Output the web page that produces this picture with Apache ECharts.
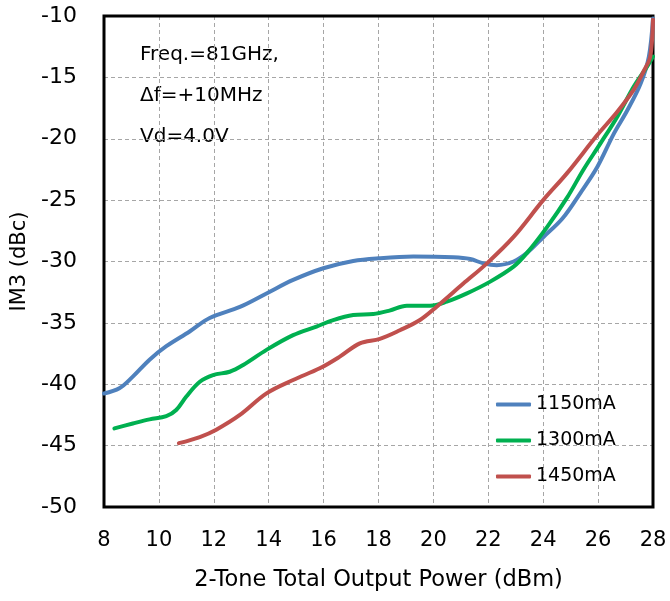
<!DOCTYPE html>
<html>
<head>
<meta charset="utf-8">
<script src="https://cdn.jsdelivr.net/npm/echarts@6/dist/echarts.min.js"></script>
<style>
  html, body { margin: 0; padding: 0; background: #ffffff; }
  #chart { width: 670px; height: 601px; }
</style>
</head>
<body>
<div id="chart"></div>
<script>
// Two-tone IM3 versus total output power, three drain currents
const xTicks = [8, 10, 12, 14, 16, 18, 20, 22, 24, 26, 28];
const yTicks = [-50, -45, -40, -35, -30, -25, -20, -15, -10];

const seriesNames = ['1150mA', '1300mA', '1450mA'];

const pout1150 = [8.0, 8.56, 9.04, 9.66, 10.27, 11.12, 11.85, 12.95, 13.92, 14.89, 15.99, 17.08, 18.0, 19.27, 20.73, 21.34, 21.82, 22.31, 22.92, 23.41, 24.01, 24.7, 25.36, 25.97, 26.57, 27.06, 27.55, 27.85, 28.0];
const im3_1150 = [-40.75, -40.33, -39.4, -38.0, -36.9, -35.7, -34.6, -33.7, -32.6, -31.5, -30.55, -29.96, -29.74, -29.6, -29.66, -29.8, -30.15, -30.3, -30.0, -29.3, -28.0, -26.5, -24.4, -22.3, -19.6, -17.7, -15.5, -13.3, -10.2];

const pout1300 = [8.38, 9.05, 9.66, 10.27, 10.63, 11.0, 11.49, 11.97, 12.58, 13.07, 13.92, 14.89, 15.74, 16.35, 17.08, 17.81, 18.4, 19.03, 19.88, 20.49, 21.22, 22.07, 22.92, 23.41, 24.14, 24.87, 25.47, 26.08, 26.7, 27.3, 27.79, 28.0];
const im3_1300 = [-43.6, -43.2, -42.86, -42.6, -42.1, -41.0, -39.8, -39.25, -38.98, -38.43, -37.2, -36.0, -35.3, -34.77, -34.36, -34.28, -34.0, -33.6, -33.6, -33.27, -32.6, -31.64, -30.42, -29.3, -27.2, -24.8, -22.5, -20.4, -18.2, -15.75, -14.1, -13.3];

const pout1450 = [10.73, 11.49, 12.09, 12.95, 13.92, 14.89, 15.86, 16.59, 17.32, 18.05, 18.78, 19.51, 20.12, 21.09, 21.95, 22.92, 24.0, 24.87, 25.97, 26.7, 27.3, 27.66, 27.9, 28.0];
const im3_1450 = [-44.8, -44.3, -43.7, -42.5, -40.74, -39.65, -38.7, -37.75, -36.67, -36.3, -35.6, -34.77, -33.68, -31.8, -30.15, -28.0, -25.0, -22.8, -19.7, -17.8, -16.0, -14.5, -13.3, -10.3];

const colors = ['#4f81bd', '#00b050', '#c0504d'];
const noteLines = ['Freq.=81GHz,', 'Δf=+10MHz', 'Vd=4.0V'];

const FONT = '"DejaVu Sans", Verdana, sans-serif';

function pairs(xs, ys) {
  return xs.map((x, i) => [x, ys[i]]);
}

const chart = echarts.init(document.getElementById('chart'), null, { renderer: 'canvas' });

const gridBox = { left: 104, top: 16, right: 17, bottom: 94 };

chart.setOption({
  animation: false,
  backgroundColor: '#ffffff',
  color: colors,
  grid: {
    left: gridBox.left, top: gridBox.top, right: gridBox.right, bottom: gridBox.bottom,
    show: true, borderColor: '#000000', borderWidth: 3, backgroundColor: 'transparent',
    z: 1
  },
  legend: {
    orient: 'vertical',
    left: 491,
    top: 389,
    itemWidth: 35,
    itemHeight: 4,
    itemGap: 15,
    itemStyle: { borderWidth: 0 },
    icon: 'roundRect',
    textStyle: { fontFamily: FONT, fontSize: 19, color: '#000000', lineHeight: 21 },
    data: seriesNames
  },
  xAxis: {
    type: 'value',
    min: xTicks[0],
    max: xTicks[xTicks.length - 1],
    interval: 2,
    name: '2-Tone Total Output Power (dBm)',
    nameLocation: 'middle',
    nameGap: 62,
    nameTextStyle: { fontFamily: FONT, fontSize: 22.5, color: '#000000' },
    axisLine: { show: false },
    axisTick: { show: false },
    axisLabel: { fontFamily: FONT, fontSize: 21, color: '#000000', margin: 23 },
    splitLine: { show: true, lineStyle: { color: '#a6a6a6', type: [4, 3], width: 1 } }
  },
  yAxis: {
    type: 'value',
    min: yTicks[0],
    max: yTicks[yTicks.length - 1],
    interval: 5,
    name: 'IM3 (dBc)',
    nameLocation: 'middle',
    nameGap: 71,
    nameTextStyle: { fontFamily: FONT, fontSize: 21, color: '#000000' },
    axisLine: { show: false },
    axisTick: { show: false },
    axisLabel: { fontFamily: FONT, fontSize: 22, color: '#000000', margin: 27 },
    splitLine: { show: true, lineStyle: { color: '#a6a6a6', type: [4, 3], width: 1 } }
  },
  graphic: noteLines.map((t, i) => ({
    type: 'text',
    left: 140,
    top: 45 + i * 41,
    style: { text: t, fontFamily: FONT, fontSize: 20, fill: '#000000' }
  })),
  series: [
    { name: seriesNames[0], data: pairs(pout1150, im3_1150) },
    { name: seriesNames[1], data: pairs(pout1300, im3_1300) },
    { name: seriesNames[2], data: pairs(pout1450, im3_1450) }
  ].map((s, i) => ({
    type: 'line',
    name: s.name,
    data: s.data,
    smooth: 0.35,
    showSymbol: false,
    symbol: 'none',
    clip: true,
    lineStyle: { width: 4, color: colors[i], cap: 'round', join: 'round' },
    itemStyle: { color: colors[i] },
    z: 3 + i
  }))
});
</script>
</body>
</html>
